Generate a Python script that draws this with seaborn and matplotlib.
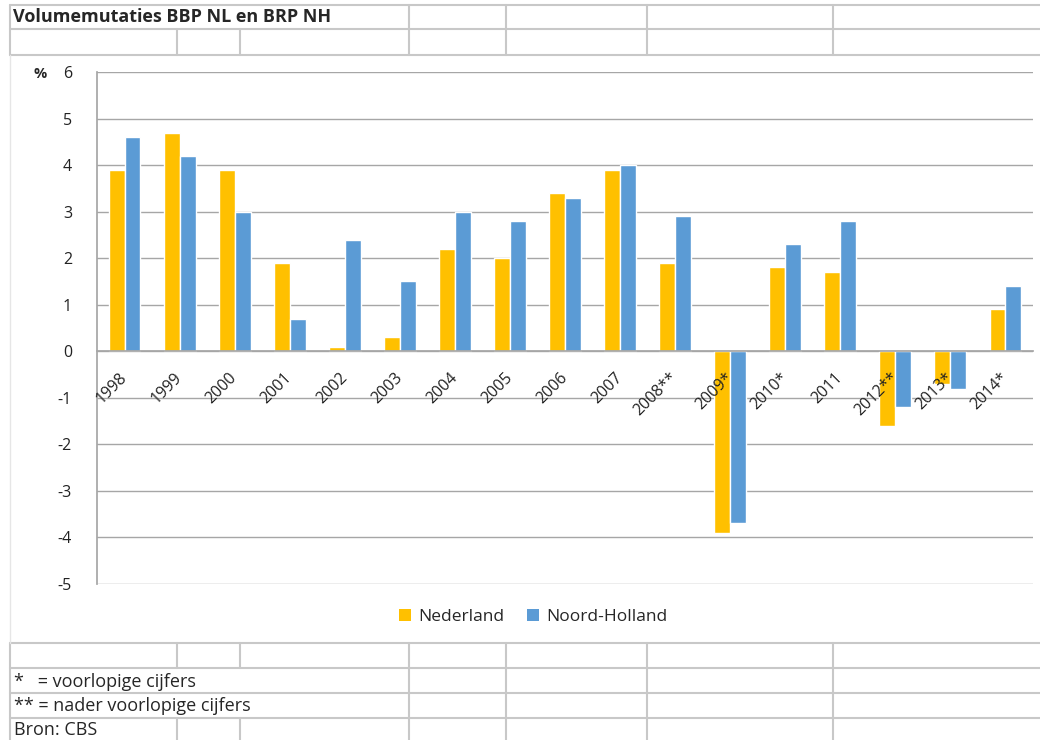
#!/usr/bin/env python3
import pandas as pd
import matplotlib.pyplot as plt
import seaborn as sns
from matplotlib.lines import Line2D
from matplotlib.patches import Patch
from matplotlib.transforms import ScaledTranslation

# Data (volume changes in %)
years = ['1998', '1999', '2000', '2001', '2002', '2003', '2004', '2005', '2006',
         '2007', '2008**', '2009*', '2010*', '2011', '2012**', '2013*', '2014*']
nederland = [3.9, 4.7, 3.9, 1.9, 0.1, 0.3, 2.2, 2.0, 3.4, 3.9, 1.9, -3.9, 1.8, 1.7, -1.6, -0.7, 0.9]
noord_holland = [4.6, 4.2, 3.0, 0.7, 2.4, 1.5, 3.0, 2.8, 3.3, 4.0, 2.9, -3.7, 2.3, 2.8, -1.2, -0.8, 1.4]
series = ['Nederland', 'Noord-Holland']
colors = ['#FFC000', '#5B9BD5']
yticks = list(range(-5, 7))

sns.set_theme(style="white")
plt.rcParams['font.family'] = ['Open Sans', 'DejaVu Sans']

W, H = 1040, 740
GRID = '#a6a6a6'
SHEET = '#c8c8c8'

df = pd.DataFrame({
    'Jaar': years * 2,
    'Regio': [series[0]] * len(years) + [series[1]] * len(years),
    'Volume': nederland + noord_holland,
})

fig = plt.figure(figsize=(W / 100, H / 100), dpi=100)
fig.patch.set_facecolor('white')

ax = fig.add_axes([97 / W, 1 - 584 / H, (1033 - 97) / W, (584 - 72) / H])
sns.barplot(data=df, x='Jaar', y='Volume', hue='Regio', palette=colors,
            width=0.58, saturation=1, ax=ax, legend=False)
# keep tick labels above the bars, gridlines below them
ax.set_axisbelow(False)
ax.grid(False)
for v in yticks:
    ax.axhline(v, color=GRID, lw=1, zorder=0.5)
ax.set_xlim(-0.5, len(years) - 0.5)
ax.set_ylim(-5, 6)
ax.set_xlabel('')
ax.set_ylabel('')
ax.set_yticks(yticks)
ax.set_yticklabels([str(v) for v in yticks], fontsize=11.5, color='#222222')

for s in ['top', 'right']:
    ax.spines[s].set_visible(False)
ax.spines['left'].set_color(GRID)
ax.spines['bottom'].set_color(GRID)
ax.spines['bottom'].set_position(('data', 0))

ax.set_xticks(range(len(years)))
ax.set_xticklabels(years, rotation=45, ha='right', va='center',
                   rotation_mode='anchor', fontsize=11.5, color='#222222')
shift = ScaledTranslation(5 / 100, 0, fig.dpi_scale_trans)
for lbl in ax.get_xticklabels():
    lbl.set_transform(lbl.get_transform() + shift)
ax.set_xticks([i - 0.5 for i in range(len(years) + 1)], minor=True)
ax.tick_params(axis='x', which='major', length=0, pad=17)
ax.tick_params(axis='x', which='minor', length=5, color=GRID, direction='out')
ax.tick_params(axis='y', length=4, color=GRID, direction='out', pad=14)

fig.text(40 / W, 1 - 74 / H, '%', fontsize=10.5, fontweight='bold', ha='center', va='center')

handles = [Patch(facecolor=c, edgecolor='none', label=l) for c, l in zip(colors, series)]
fig.legend(handles=handles, loc='center', bbox_to_anchor=(533 / W, 1 - 617 / H), ncol=2,
           frameon=False, handlelength=0.7, handleheight=0.7, handletextpad=0.4,
           columnspacing=1.3, fontsize=12.5)


# spreadsheet cell borders around the chart
def hline(y, x0=10, x1=W, color=SHEET, lw=1.5):
    fig.add_artist(Line2D([x0 / W, x1 / W], [1 - y / H, 1 - y / H],
                          transform=fig.transFigure, color=color, lw=lw))


def vline(x, y0, y1, color=SHEET, lw=1.5):
    fig.add_artist(Line2D([x / W, x / W], [1 - y0 / H, 1 - y1 / H],
                          transform=fig.transFigure, color=color, lw=lw))


for y in [5, 29, 55, 643, 668, 693, 718]:
    hline(y)
vline(10, 5, 55)
vline(10, 643, 740)
for x in [409, 506, 647, 833]:
    vline(x, 5, 55)
    vline(x, 643, 740)
for x in [177, 240]:
    vline(x, 29, 55)
    vline(x, 643, 668)
    vline(x, 718, 740)
# chart object frame
vline(10, 55, 643, color='#e6e6e6', lw=1)

fig.text(13 / W, 1 - 17 / H, 'Volumemutaties BBP NL en BRP NH', fontsize=13,
         fontweight='bold', ha='left', va='center')
fig.text(14 / W, 1 - 682 / H, '*   = voorlopige cijfers', fontsize=13, ha='left', va='center')
fig.text(14 / W, 1 - 706 / H, '** = nader voorlopige cijfers', fontsize=13, ha='left', va='center')
fig.text(14 / W, 1 - 730 / H, 'Bron: CBS', fontsize=13, ha='left', va='center')

fig.savefig('out.png', dpi=100)
